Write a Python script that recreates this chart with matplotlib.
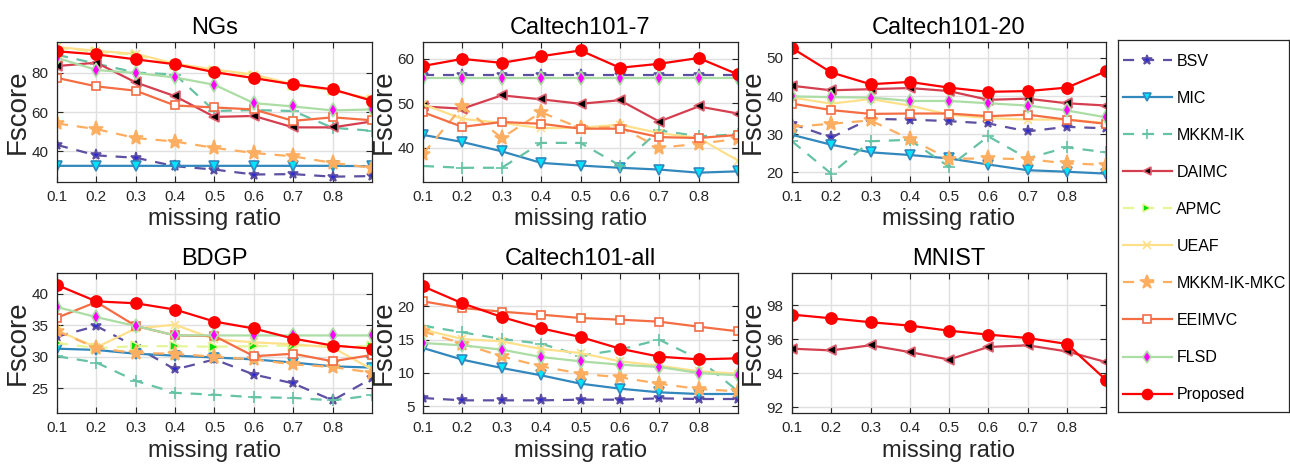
import numpy as np
import matplotlib
matplotlib.use("Agg")
import matplotlib.pyplot as plt

plt.rcParams['font.family'] = ['Liberation Sans', 'DejaVu Sans']

ratios = [0.1, 0.2, 0.3, 0.4, 0.5, 0.6, 0.7, 0.8, 0.9]
xtick_vals = [0.1, 0.2, 0.3, 0.4, 0.5, 0.6, 0.7, 0.8]
methods = ["BSV", "MIC", "MKKM-IK", "DAIMC", "APMC", "UEAF",
           "MKKM-IK-MKC", "EEIMVC", "FLSD", "Proposed"]

ngs = {
    "BSV": [43.3, 38.0, 36.8, 32.5, 30.8, 28.3, 28.5, 27.2, 27.5],
    "MIC": [32.7, 32.7, 32.7, 32.7, 32.7, 32.7, 32.7, 32.7, 32.5],
    "MKKM-IK": [89.0, 84.5, 80.0, 79.0, 60.5, 61.0, 60.5, 52.0, 50.5],
    "DAIMC": [83.3, 85.0, 75.0, 68.0, 57.5, 58.0, 52.2, 52.2, 55.2],
    "APMC": [92.5, 90.5, 89.0, 84.0, 81.0, 78.5, 73.5, 71.0, 66.0],
    "UEAF": [93.0, 91.0, 89.5, 84.5, 81.5, 79.0, 74.0, 71.0, 66.5],
    "MKKM-IK-MKC": [54.2, 51.3, 46.8, 45.0, 41.8, 39.2, 37.5, 34.2, 31.7],
    "EEIMVC": [77.3, 73.0, 70.8, 63.3, 62.3, 61.3, 55.5, 57.3, 55.8],
    "FLSD": [87.5, 81.3, 79.8, 77.5, 73.8, 64.5, 62.8, 60.8, 61.3],
    "Proposed": [90.8, 89.2, 86.7, 84.2, 80.2, 77.2, 74.0, 71.5, 65.7],
}
caltech7 = {
    "BSV": [56.3, 56.3, 56.3, 56.3, 56.3, 56.3, 56.3, 56.3, 56.3],
    "MIC": [42.9, 41.3, 39.2, 36.6, 36.0, 35.5, 35.1, 34.4, 34.7],
    "MKKM-IK": [35.9, 35.5, 35.5, 41.1, 41.1, 36.0, 43.9, 42.6, 43.0],
    "DAIMC": [49.3, 48.8, 51.8, 50.9, 49.9, 50.7, 45.9, 49.3, 47.7],
    "UEAF": [49.8, 46.5, 45.6, 44.4, 44.5, 45.2, 43.3, 42.2, 37.1],
    "MKKM-IK-MKC": [38.6, 49.3, 42.2, 48.0, 44.4, 44.7, 40.0, 40.9, 42.0],
    "EEIMVC": [48.0, 44.7, 45.8, 45.4, 44.3, 44.3, 42.4, 42.2, 42.9],
    "FLSD": [55.7, 55.7, 55.7, 55.7, 55.7, 55.7, 55.7, 55.7, 55.7],
    "Proposed": [58.4, 60.0, 59.1, 60.6, 61.9, 58.0, 58.9, 60.2, 56.5],
}
caltech20 = {
    "BSV": [32.7, 29.1, 34.0, 33.8, 33.4, 32.8, 30.7, 31.9, 31.5],
    "MIC": [29.8, 27.2, 25.2, 24.5, 23.6, 22.0, 20.5, 20.1, 19.6],
    "MKKM-IK": [28.1, 19.6, 28.1, 28.5, 21.4, 29.4, 23.6, 26.5, 25.2],
    "DAIMC": [42.7, 41.5, 41.8, 42.1, 41.3, 39.0, 39.3, 38.1, 37.5],
    "UEAF": [39.6, 38.0, 39.2, 37.5, 35.1, 34.2, 33.8, 33.8, 32.9],
    "MKKM-IK-MKC": [31.9, 32.7, 33.6, 28.7, 23.5, 23.6, 23.4, 22.3, 21.9],
    "EEIMVC": [38.0, 36.3, 35.3, 35.4, 35.4, 34.7, 35.1, 33.8, 32.7],
    "FLSD": [39.9, 39.7, 39.6, 38.7, 38.7, 38.1, 37.5, 36.2, 34.4],
    "Proposed": [52.6, 46.2, 43.1, 43.7, 42.2, 41.1, 41.3, 42.2, 46.5],
}
bdgp = {
    "BSV": [33.2, 34.9, 31.6, 28.0, 29.6, 27.2, 25.8, 23.1, 26.6],
    "MIC": [31.3, 31.1, 30.5, 30.2, 29.9, 29.6, 29.1, 28.5, 28.3],
    "MKKM-IK": [30.1, 29.1, 26.2, 24.3, 24.0, 23.6, 23.5, 23.1, 23.9],
    "APMC": [32.2, 31.4, 31.7, 31.7, 31.6, 31.7, 31.8, 31.7, 31.7],
    "UEAF": [34.2, 31.5, 34.5, 35.1, 32.8, 32.3, 32.0, 31.5, 28.0],
    "MKKM-IK-MKC": [34.1, 31.4, 30.6, 30.5, 30.0, 29.6, 28.8, 28.4, 27.5],
    "EEIMVC": [36.2, 38.7, 34.9, 33.4, 33.3, 30.1, 30.5, 29.3, 30.3],
    "FLSD": [37.9, 36.3, 34.9, 33.4, 33.4, 33.4, 33.4, 33.4, 33.4],
    "Proposed": [41.4, 38.8, 38.5, 37.5, 35.6, 34.5, 32.9, 31.8, 31.3],
}
caltech_all = {
    "BSV": [6.25, 5.9, 5.9, 5.9, 6.0, 6.0, 6.2, 6.1, 6.1],
    "MIC": [13.75, 12.0, 10.75, 9.65, 8.4, 7.65, 7.1, 6.85, 6.85],
    "MKKM-IK": [17.1, 16.1, 15.1, 14.4, 12.6, 13.5, 15.0, 12.1, 7.25],
    "UEAF": [16.5, 15.1, 14.75, 13.6, 13.0, 11.75, 11.1, 10.25, 9.9],
    "MKKM-IK-MKC": [16.25, 14.4, 12.5, 11.0, 9.9, 9.35, 8.4, 7.6, 7.25],
    "EEIMVC": [20.75, 19.75, 19.2, 18.75, 18.25, 18.0, 17.7, 16.95, 16.25],
    "FLSD": [14.5, 14.15, 13.5, 12.4, 11.75, 11.25, 10.9, 10.0, 9.65],
    "Proposed": [23.0, 20.45, 18.4, 16.7, 15.4, 13.65, 12.45, 12.05, 12.2],
}
mnist = {
    "DAIMC": [95.44, 95.34, 95.64, 95.24, 94.8, 95.54, 95.64, 95.28, 94.65],
    "Proposed": [97.45, 97.23, 97.0, 96.8, 96.5, 96.27, 96.07, 95.72, 93.6],
}

titles = ["NGs", "Caltech101-7", "Caltech101-20", "BDGP", "Caltech101-all", "MNIST"]
datasets = [ngs, caltech7, caltech20, bdgp, caltech_all, mnist]
ylims = [(24.5, 95.5), (32.3, 63.8), (17.4, 54.2), (21.1, 43.3), (4.0, 25.0), (91.65, 99.9)]
yticks = [[40, 60, 80], [40, 50, 60], [20, 30, 40, 50], [25, 30, 35, 40],
          [5, 10, 15, 20], [92, 94, 96, 98]]

styles = {
    "BSV": dict(color='#5E4FA2', ls=(0, (5, 4)), marker='*', mfc='#2a2ad6', mec='#5E4FA2', ms=8),
    "MIC": dict(color='#3288BD', ls='-', marker='v', mfc='#00E5FF', mec='#3288BD', ms=7),
    "MKKM-IK": dict(color='#66C2A5', ls=(0, (5, 4)), marker='+', mfc='#66C2A5', mec='#66C2A5', ms=8),
    "DAIMC": dict(color='#D53E4F', ls='-', marker='<', mfc='black', mec='#E06070', ms=7),
    "APMC": dict(color='#E6F598', ls=(0, (5, 4)), marker='>', mfc='#00DD00', mec='#E6F598', ms=7),
    "UEAF": dict(color='#FEE08B', ls='-', marker='x', mfc='#FEE08B', mec='#FEE08B', ms=6),
    "MKKM-IK-MKC": dict(color='#FDAE61', ls=(0, (5, 4)), marker='*', mfc='#FDAE61', mec='#FDAE61', ms=11),
    "EEIMVC": dict(color='#F46D43', ls='-', marker='s', mfc='white', mec='#F46D43', ms=6),
    "FLSD": dict(color='#ABDDA4', ls='-', marker='d', mfc='#FF00FF', mec='#ABDDA4', ms=7),
    "Proposed": dict(color='#FF0000', ls='-', marker='o', mfc='#FF0000', mec='#FF0000', ms=8),
}

W, H = 1290, 466
fig = plt.figure(figsize=(W / 100, H / 100), dpi=100)

lefts = [57, 423, 792]
widths = [315, 315, 314]
tops = [42, 273]
ah = 140

axes = []
for i in range(6):
    r, c = divmod(i, 3)
    ax = fig.add_axes([lefts[c] / W, 1 - (tops[r] + ah) / H, widths[c] / W, ah / H])
    axes.append(ax)

handles = {}
for ax, title, data, yl, yt in zip(axes, titles, datasets, ylims, yticks):
    for m in methods:
        if m not in data:
            continue
        st = styles[m]
        ln, = ax.plot(ratios, data[m], color=st['color'], linestyle=st['ls'], lw=1.6,
                      marker=st['marker'], markerfacecolor=st['mfc'],
                      markeredgecolor=st['mec'], markersize=st['ms'], markeredgewidth=1.2,
                      label=m)
        handles[m] = ln
    ax.set_xlim(0.1, 0.9)
    ax.set_ylim(*yl)
    ax.set_xticks(xtick_vals)
    ax.set_xticklabels([f"{v:.1f}" for v in xtick_vals])
    ax.set_yticks(yt)
    ax.grid(True, color='#e0e0e0', lw=1.0)
    ax.set_axisbelow(True)
    ax.tick_params(direction='in', top=True, right=True, length=4, width=0.8,
                   labelsize=11, colors='#262626', pad=6)
    for s in ax.spines.values():
        s.set_color('#262626')
        s.set_linewidth(0.9)
    ax.set_title(title, fontsize=17, pad=6)
    ax.set_xlabel("missing ratio", fontsize=17, labelpad=3, color='#262626')
    ax.set_ylabel("Fscore", fontsize=20, labelpad=1, color='#262626')

# legend frame drawn as its own box
lax = fig.add_axes([1118 / W, 1 - 412 / H, 171 / W, 372 / H])
lax.set_xticks([])
lax.set_yticks([])
for s in lax.spines.values():
    s.set_color('#262626')
    s.set_linewidth(0.9)
leg = lax.legend([handles[m] for m in methods], methods,
                 loc='upper left', bbox_to_anchor=(0.0, 1 - 9 / 372),
                 fontsize=11.5, frameon=False,
                 handlelength=3.05, handletextpad=0.3, labelspacing=1.38,
                 borderpad=0.3, borderaxespad=0, markerscale=0.9)

fig.savefig("out.png", dpi=100)
